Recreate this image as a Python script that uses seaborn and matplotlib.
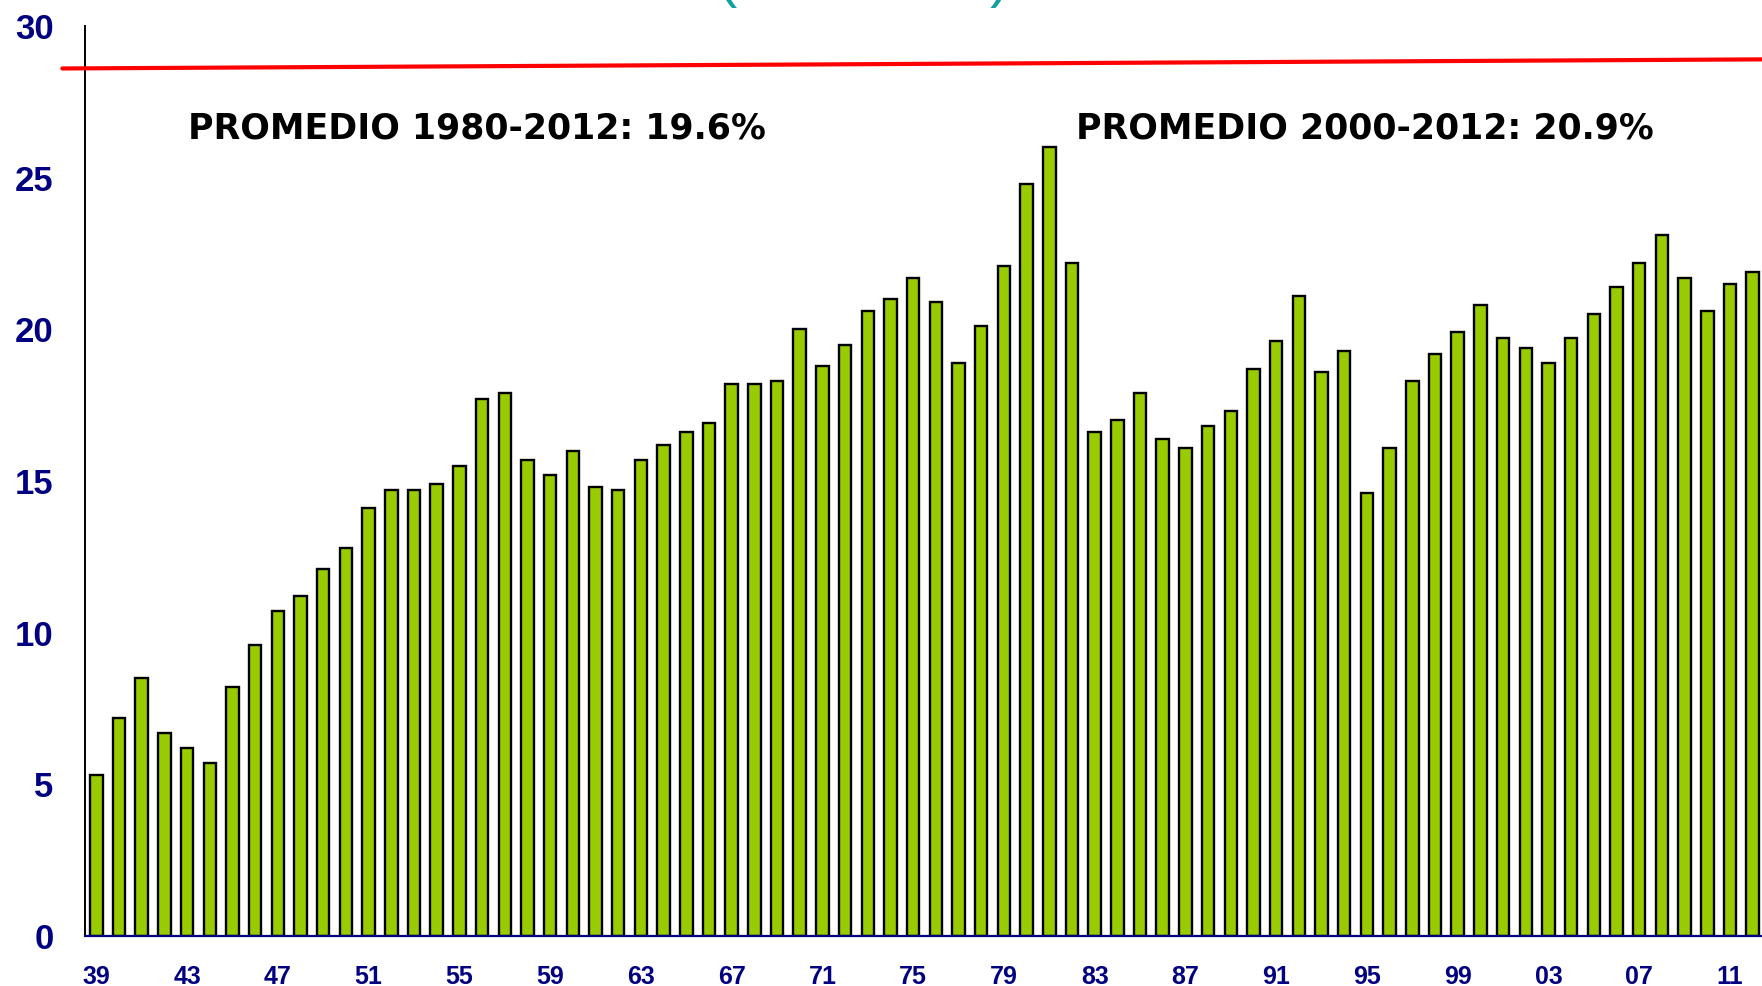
import numpy as np
import pandas as pd
import matplotlib
matplotlib.use("Agg")
import matplotlib.pyplot as plt
import seaborn as sns

# datos: inversion como % del PIB, 1939-2012
years = list(range(1939, 2013))
values = [5.3, 7.2, 8.5, 6.7, 6.2, 5.7, 8.2, 9.6, 10.7, 11.2,
          12.1, 12.8, 14.1, 14.7, 14.7, 14.9, 15.5, 17.7, 17.9, 15.7,
          15.2, 16.0, 14.8, 14.7, 15.7, 16.2, 16.6, 16.9, 18.2, 18.2,
          18.3, 20.0, 18.8, 19.5, 20.6, 21.0, 21.7, 20.9, 18.9, 20.1,
          22.1, 24.8, 26.0, 22.2, 16.6, 17.0, 17.9, 16.4, 16.1, 16.8,
          17.3, 18.7, 19.6, 21.1, 18.6, 19.3, 14.6, 16.1, 18.3, 19.2,
          19.9, 20.8, 19.7, 19.4, 18.9, 19.7, 20.5, 21.4, 22.2, 23.1,
          21.7, 20.6, 21.5, 21.9]
year_labels = [str(y)[2:] for y in years]
red_line = [28.6, 28.9]
note_left = "PROMEDIO 1980-2012: 19.6%"
note_right = "PROMEDIO 2000-2012: 20.9%"
title_part = "(% del PIB)"

df = pd.DataFrame({"anio": year_labels, "valor": values})

sns.set_style("white")
plt.rcParams['font.family'] = ['DejaVu Sans']

navy = '#000080'

fig = plt.figure(figsize=(17.62, 9.86), dpi=100)
ax = fig.add_axes([85/1762, 50/986, 1679/1762, 910/986])

sns.barplot(data=df, x="anio", y="valor", color='#99cc00', saturation=1,
            edgecolor='black', linewidth=1.7, width=0.55, ax=ax)

# linea roja de referencia
ax.plot([-1.5, 73.5], red_line, color='#ff0000', lw=3, clip_on=False, zorder=5)

ax.set_xlim(-0.5, 73.5)
ax.set_ylim(0, 30)
ax.set_xlabel("")
ax.set_ylabel("")

ax.set_xticks(range(0, len(years), 4))
ax.set_xticklabels(year_labels[::4])
ax.set_xticks(np.arange(-0.5, len(years), 1), minor=True)
ax.tick_params(axis='x', which='major', length=0, pad=21, labelsize=18,
               labelcolor=navy)
ax.tick_params(axis='x', which='minor', length=5.5, width=1.1, color=navy,
               direction='out')
ax.set_yticks(range(0, 31, 5))
ax.tick_params(axis='y', which='major', length=8.6, width=1.3, color='black',
               direction='out', pad=14, labelsize=25, labelcolor=navy)
for lab in ax.get_xticklabels() + ax.get_yticklabels():
    lab.set_fontfamily('Liberation Sans')
    lab.set_fontweight('bold')

ax.spines['top'].set_visible(False)
ax.spines['right'].set_visible(False)
ax.spines['left'].set_linewidth(1.4)
ax.spines['left'].set_color('black')
ax.spines['bottom'].set_linewidth(1.6)
ax.spines['bottom'].set_color(navy)

ax.text(4.04, 26.3, note_left, fontsize=25, fontweight='bold', color='black',
        va='baseline', ha='left')
ax.text(43.18, 26.3, note_right, fontsize=25, fontweight='bold', color='black',
        va='baseline', ha='left')

# titulo recortado: solo asoman los parentesis
fig.text(718/1762, 1.0 + 4/986, title_part, fontsize=41.5, color='#10a0a0',
         family='Liberation Sans', va='baseline', ha='left')

fig.savefig("out.png", dpi=100)
